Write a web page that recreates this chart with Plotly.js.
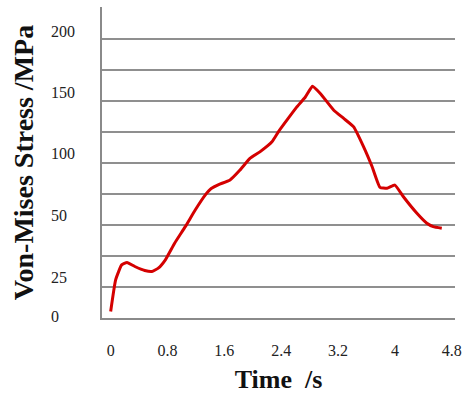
<!DOCTYPE html>
<html>
<head>
<meta charset="utf-8">
<script src="https://cdn.plot.ly/plotly-3.0.1.min.js"></script>
<style>html,body{margin:0;padding:0;background:#fff;}#chart{width:465px;height:403px;}</style>
</head>
<body>
<div id="chart"></div>
<script>
// Time (s)
var time = [0, 0.07, 0.155, 0.23, 0.34, 0.48, 0.58, 0.67, 0.77, 0.9, 1.05, 1.19, 1.33, 1.42, 1.52, 1.68, 1.82, 1.96, 2.1, 2.27, 2.36, 2.48, 2.62, 2.74, 2.84, 2.95, 3.14, 3.28, 3.42, 3.56, 3.68, 3.79, 3.89, 4.0, 4.12, 4.31, 4.45, 4.54, 4.66];
// Stress on the chart's gridline scale (one gridline = 25)
var stress = [5.3, 30.8, 42.8, 44.7, 41.5, 38.3, 37.5, 40.2, 46.9, 60.3, 73.6, 87, 99, 104.5, 107.5, 111.2, 119.2, 128.6, 133.9, 142, 150, 159.4, 170.1, 178.1, 186.7, 180.9, 167.4, 160.8, 154, 137.9, 121.9, 105.3, 104.5, 107.1, 97.7, 84.4, 76.4, 73.6, 72.3];
// x tick labels
var xTickVals = [0, 0.8, 1.6, 2.4, 3.2, 4, 4.8];
var xTickText = ["0", "0.8", "1.6", "2.4", "3.2", "4", "4.8"];
// y tick labels as printed (placed where they appear in the figure)
var yTickVals = [1, 33, 83, 133, 182, 231];
var yTickText = ["0", "25", "50", "100", "150", "200"];

var serif = "'Liberation Serif', 'Times New Roman', serif";

var trace = {
  x: time, y: stress, type: 'scatter', mode: 'lines',
  line: {color: '#d40000', width: 3, shape: 'spline', smoothing: 0.4},
  hoverinfo: 'skip', showlegend: false
};

var layout = {
  width: 465, height: 403,
  margin: {l: 50, r: 10, t: 7, b: 85},
  paper_bgcolor: '#ffffff', plot_bgcolor: '#ffffff',
  font: {family: serif, color: '#222', size: 16},
  xaxis: {
    domain: [52 / 405, 1],
    range: [-0.122, 4.846],
    tickmode: 'array', tickvals: xTickVals, ticktext: xTickText,
    showgrid: false, zeroline: false,
    showline: true, linecolor: '#8a8a8a', linewidth: 2,
    ticks: 'outside', ticklen: 17, tickcolor: 'rgba(0,0,0,0)',
    tickfont: {family: serif, size: 16, color: '#222'},
    title: {text: '<b>Time  /s</b>', font: {family: serif, size: 26, color: '#111'}, standoff: 12}
  },
  yaxis: {
    range: [0, 250.6],
    tickmode: 'linear', tick0: 0, dtick: 25,
    showticklabels: false,
    showgrid: true, gridcolor: '#8f8f8f', gridwidth: 1.6,
    zeroline: false,
    showline: true, linecolor: '#8a8a8a', linewidth: 2,
    ticks: '', automargin: false,
    title: {text: '<b>Von-Mises Stress /MPa</b>', font: {family: serif, size: 28, color: '#111'}, standoff: 58}
  },
  yaxis2: {
    overlaying: 'y', side: 'right', anchor: 'free', position: 0,
    range: [0, 250.6],
    tickmode: 'array', tickvals: yTickVals, ticktext: yTickText,
    showgrid: false, zeroline: false, showline: false,
    ticks: '', automargin: false,
    tickfont: {family: serif, size: 16, color: '#222'}
  }
};

var dummy = {x: [0], y: [0], yaxis: 'y2', type: 'scatter', mode: 'markers',
  marker: {opacity: 0}, hoverinfo: 'skip', showlegend: false};

Plotly.newPlot('chart', [trace, dummy], layout, {staticPlot: true, displayModeBar: false});
</script>
</body>
</html>
